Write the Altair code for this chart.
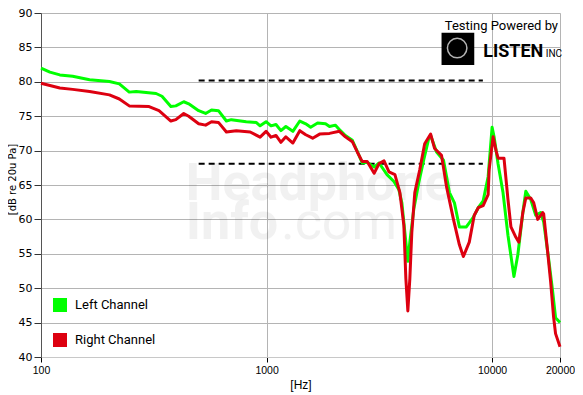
import altair as alt
import pandas as pd

# ---------------- data ----------------
left_hz = [100, 109.5, 121.2, 138.2, 164.2, 201.1, 222.5, 246.2, 264.2, 323.6, 343.8, 376.5, 396.1,
           429.5, 451.8, 500, 536.7, 570.2, 612, 663.7, 698.2, 812.6, 899.1, 936.3, 995, 1046.6,
           1101, 1158, 1218, 1308, 1404, 1492, 1569, 1684, 1826, 1902, 2021, 2126, 2236, 2401,
           2525, 2656, 2794, 2999, 3154, 3421, 3671, 3862, 3981, 4104, 4231, 4318, 4496, 4727,
           4972, 5233, 5340, 5673, 6090, 6471, 6808, 7161, 7686, 8250, 8681, 9129, 9603, 10000,
           10204, 10626, 11178, 11757, 12496, 13010, 13686, 14107, 14839, 15609, 16424, 16930,
           17805, 18544, 19114, 20000]
left_db = [82.0, 81.4, 81.0, 80.8, 80.3, 80.05, 79.7, 78.5, 78.6, 78.3, 77.9, 76.4, 76.5,
           77.1, 76.8, 75.8, 75.4, 75.9, 75.8, 74.3, 74.5, 74.2, 74.1, 73.6, 74.2, 73.6,
           73.8, 72.9, 73.5, 72.8, 74.3, 73.9, 73.4, 74.0, 73.9, 73.5, 73.7, 72.9, 72.2, 71.5,
           69.9, 68.2, 68.3, 67.6, 68.2, 66.5, 65.5, 64.3, 62.4, 58.1, 53.9, 56.7, 61.5, 65.3,
           68.6, 71.7, 72.2, 69.8, 68.6, 63.9, 62.4, 58.9, 58.9, 60.3, 61.7, 62.7, 66.2, 73.4,
           72.0, 68.1, 63.9, 57.7, 51.7, 54.9, 61.0, 64.1, 62.9, 60.6, 61.0, 59.6,
           54.3, 49.6, 45.7, 45.0]

right_hz = [100, 111.8, 121.2, 138.2, 164.2, 201.1, 222.5, 246.2, 301.4, 333.6, 376.5, 396.1,
            429.5, 451.8, 500, 536.7, 570.2, 612, 663.7, 734.4, 846.3, 936.3, 995, 1046.6, 1101,
            1158, 1218, 1308, 1404, 1492, 1601, 1719, 1902, 2104, 2236, 2401, 2525, 2656, 2794,
            2999, 3154, 3318, 3490, 3709, 3901, 4063, 4146, 4231, 4318, 4406, 4542, 4777, 5025,
            5340, 5561, 5968, 6276, 6740, 7161, 7457, 7921, 8335, 8681, 9129, 9603, 9701, 10101,
            10413, 10626, 11290, 11757, 12120, 12750, 13143, 13686, 14107, 14839, 15296, 15931,
            16758, 16930, 17629, 18172, 18733, 19114, 20000]
right_db = [79.8, 79.4, 79.1, 78.9, 78.6, 78.1, 77.5, 76.5, 76.4, 75.8, 74.3, 74.5,
            75.4, 75.0, 73.9, 73.7, 74.2, 74.1, 72.7, 72.9, 72.7, 71.95, 72.8, 71.95, 72.2,
            71.2, 72.0, 71.1, 72.9, 72.3, 71.8, 72.4, 72.5, 72.8, 72.0, 71.3, 69.8, 68.4, 68.4,
            66.7, 68.1, 68.5, 66.9, 66.5, 63.9, 59.1, 51.4, 46.7, 51.4, 58.1, 63.9, 67.2, 71.0,
            72.4, 70.3, 69.3, 64.8, 60.0, 56.3, 54.6, 56.7, 60.6, 61.7, 62.0, 63.6, 67.2, 72.0,
            70.0, 68.9, 68.9, 62.9, 58.9, 57.4, 56.7, 61.0, 63.1, 63.1, 62.4, 60.0,
            61.0, 60.8, 55.3, 51.0, 45.8, 43.4, 41.5]

channels = ["Left Channel", "Right Channel"]
channel_colors = ["#00FF00", "#DD0010"]

target_start_hz = [500, 500]
target_end_hz = [9100, 9100]
target_levels = [80.2, 68.1]

x_tick_values = [100, 1000, 10000, 20000]
y_tick_values = [40, 45, 50, 55, 60, 65, 70, 75, 80, 85, 90]

# ---------------- tables ----------------
curves = pd.DataFrame({
    "Hz": left_hz + right_hz,
    "dB": left_db + right_db,
    "channel": [channels[0]] * len(left_hz) + [channels[1]] * len(right_hz),
})
targets = pd.DataFrame({"Hz": target_start_hz, "Hz2": target_end_hz, "dB": target_levels})

xs = alt.Scale(type="log", domain=[100, 20000], nice=False)
ys = alt.Scale(domain=[40, 90], nice=False, zero=False)

x_axis = alt.Axis(values=x_tick_values, format="d", grid=True, gridColor="#B4B4B4",
                  domainColor="#C8C8C8", tickColor="#000000", tickSize=5,
                  labelFont="Liberation Sans", labelFontSize=10.5, labelColor="#000000",
                  labelFlush=False, labelOverlap=False, labelPadding=3,
                  title="[Hz]", titleFont="Liberation Sans", titleFontSize=12,
                  titleFontWeight="normal", titleColor="#000000", titlePadding=4)
y_axis = alt.Axis(values=y_tick_values, grid=True, gridColor="#B4B4B4",
                  domainColor="#555555", tickColor="#333333", tickSize=7,
                  labelFont="DejaVu Sans", labelFontSize=11, labelColor="#000000",
                  labelPadding=2, labelOverlap=False,
                  title="[dB re 20u Pa]", titleFont="DejaVu Sans",
                  titleFontSize=10, titleFontWeight="normal", titleColor="#000000",
                  titleX=-29, titleY=166, titleAngle=270, titleAlign="center",
                  titleBaseline="middle")

X = alt.X("Hz:Q", scale=xs, axis=x_axis)
Y = alt.Y("dB:Q", scale=ys, axis=y_axis)

legend = alt.Legend(title=None, orient="none", legendX=12, legendY=285,
                    symbolType="square", symbolSize=49, symbolStrokeWidth=7,
                    symbolOpacity=1,
                    labelFont="Roboto", labelFontSize=13, labelColor="#000000",
                    labelOffset=8, rowPadding=-1, direction="vertical")

color = alt.Color("channel:N", scale=alt.Scale(domain=channels, range=channel_colors),
                  legend=legend)

base = alt.Chart(curves).mark_line(strokeWidth=3, strokeJoin="round").encode(
    x=X, y=Y, color=color)
left_line = base.transform_filter(alt.datum.channel == channels[0])
right_line = base.transform_filter(alt.datum.channel == channels[1])

target_rules = alt.Chart(targets).mark_rule(color="black", strokeWidth=2,
                                            strokeDash=[6, 4]).encode(
    x=X, x2="Hz2:Q", y=Y)

# ---------------- watermark ----------------
wm_bold = pd.DataFrame({"Hz": [438.4, 438.4], "dB": [62.86, 57.14], "t": ["Headphone", "Info"]})
wm_light = pd.DataFrame({"Hz": [1158], "dB": [57.14], "t": [".com"]})
watermark_bold = alt.Chart(wm_bold).mark_text(
    align="left", baseline="alphabetic", font="Roboto", fontSize=52, fontWeight="bold",
    color="#000000", opacity=0.05).encode(x=X, y=Y, text="t:N")
watermark_light = alt.Chart(wm_light).mark_text(
    align="left", baseline="alphabetic", font="Roboto", fontSize=52,
    color="#000000", opacity=0.05).encode(x=X, y=Y, text="t:N")

# ---------------- logo ----------------
logo_box = pd.DataFrame({"Hz": [5968], "Hz2": [8335], "dB": [82.43], "dB2": [87.14]})
logo_box_mark = alt.Chart(logo_box).mark_rect(color="black").encode(
    x=X, x2="Hz2:Q", y=Y, y2="dB2:Q")
head = pd.DataFrame({"Hz": [7000], "dB": [84.9]})
head_mark = alt.Chart(head).mark_point(shape="circle", filled=False, color="white",
                                       size=380, strokeWidth=1.5).encode(x=X, y=Y)

powered = pd.DataFrame({"Hz": [19600], "dB": [87.6], "t": ["Testing Powered by"]})
powered_mark = alt.Chart(powered).mark_text(
    align="right", baseline="alphabetic", font="Roboto", fontSize=13,
    color="#000000").encode(x=X, y=Y, text="t:N")
listen = pd.DataFrame({"Hz": [9129], "dB": [83.57], "t": ["LISTEN"]})
listen_mark = alt.Chart(listen).mark_text(
    align="left", baseline="alphabetic", font="Roboto", fontSize=18, fontWeight="bold",
    color="#000000").encode(x=X, y=Y, text="t:N")
inc = pd.DataFrame({"Hz": [17278], "dB": [83.57], "t": ["INC"]})
inc_mark = alt.Chart(inc).mark_text(
    align="left", baseline="alphabetic", font="Roboto", fontSize=10,
    color="#000000").encode(x=X, y=Y, text="t:N")

chart = alt.layer(
    watermark_bold, watermark_light, target_rules, left_line, right_line,
    logo_box_mark, head_mark, powered_mark, listen_mark, inc_mark,
).properties(
    width=519, height=344,
    autosize=alt.AutoSizeParams(type="none"),
    padding={"left": 33, "top": 5, "right": 15, "bottom": 36},
).configure_view(stroke=None).configure(background="white")

chart.save("out.html", embed_options={"renderer": "svg", "actions": False})
